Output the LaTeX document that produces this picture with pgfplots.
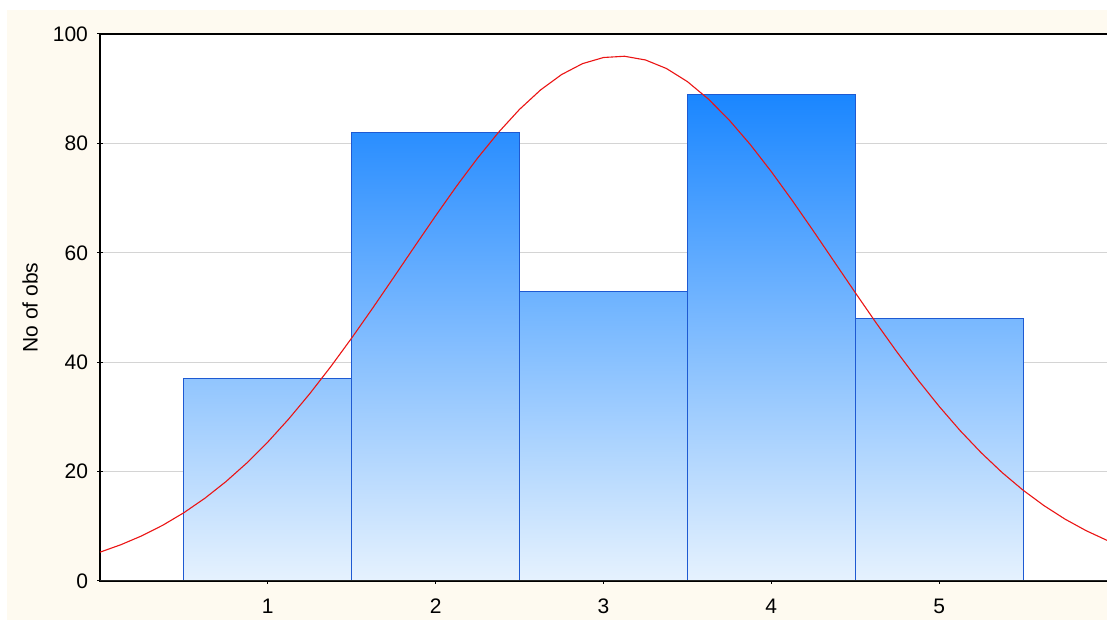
\documentclass[border=0pt]{standalone}
\usepackage{pgfplots}
\pgfplotsset{compat=1.18}
\usepackage{fontspec}
\setmainfont{Liberation Sans}
\definecolor{cream}{RGB}{254,250,240}
\definecolor{barlow}{RGB}{230,242,254}
\definecolor{barA}{RGB}{145,197,254}
\definecolor{barB}{RGB}{42,142,255}
\definecolor{barC}{RGB}{108,178,255}
\definecolor{barD}{RGB}{26,134,255}
\definecolor{barE}{RGB}{120,184,255}
\definecolor{baredge}{RGB}{30,90,210}
\definecolor{curvered}{RGB}{235,20,20}
\begin{document}
\begin{tikzpicture}
% background and bounding box (1px = 0.5pt)
\path[use as bounding box] (-50pt,-19.5pt) rectangle (503.5pt,290.5pt);
\fill[cream] (-46.5pt,-19.5pt) rectangle (503.5pt,285.5pt);
\fill[white] (0,0) rectangle (503.5pt,273.5pt);
\begin{axis}[
  at={(0,0)}, anchor=south west,
  scale only axis, width=505pt, height=273.5pt,
  xmin=0, xmax=6.0179, ymin=0, ymax=100,
  xtick={1,2,3,4,5}, ytick={0,20,40,60,80,100},
  xtick pos=bottom, ytick pos=left,
  ymajorgrids, grid style={draw=black!17, line width=0.5pt},
  axis line style={black, line width=0.6pt},
  tick style={black, line width=0.5pt},
  major tick length=3pt, tick align=center,
  ticklabel style={font=\fontsize{10.5}{12}\selectfont},
  /pgf/number format/assume math mode=true,
  xticklabel style={yshift=-4pt},
  yticklabel style={xshift=-1pt},
  ylabel={No of obs},
  ylabel style={font=\fontsize{10.5}{12}\selectfont, at={(axis description cs:-0.0693,0.5)}, anchor=center},
]
\addplot[ybar, bar width=1, bar shift=0, draw=baredge, line width=0.5pt, bottom color=barlow, top color=barA] coordinates {(1,37)};
\addplot[ybar, bar width=1, bar shift=0, draw=baredge, line width=0.5pt, bottom color=barlow, top color=barB] coordinates {(2,82)};
\addplot[ybar, bar width=1, bar shift=0, draw=baredge, line width=0.5pt, bottom color=barlow, top color=barC] coordinates {(3,53)};
\addplot[ybar, bar width=1, bar shift=0, draw=baredge, line width=0.5pt, bottom color=barlow, top color=barD] coordinates {(4,89)};
\addplot[ybar, bar width=1, bar shift=0, draw=baredge, line width=0.5pt, bottom color=barlow, top color=barE] coordinates {(5,48)};
\addplot[curvered, line width=0.55pt, no markers, line join=round] coordinates {
(0,5.27) (0.125,6.64) (0.25,8.27) (0.375,10.21) (0.5,12.49) (0.625,15.13)
(0.75,18.16) (0.875,21.58) (1,25.41) (1.125,29.64) (1.25,34.25) (1.375,39.19)
(1.5,44.43) (1.625,49.90) (1.75,55.51) (1.875,61.17) (2,66.77) (2.125,72.20)
(2.25,77.32) (2.375,82.04) (2.5,86.23) (2.625,89.77) (2.75,92.58) (2.875,94.58)
(3,95.70) (3.125,95.93) (3.25,95.25) (3.375,93.69) (3.5,91.29) (3.625,88.10)
(3.75,84.23) (3.875,79.77) (4,74.83) (4.125,69.54) (4.25,64.01) (4.375,58.36)
(4.5,52.72) (4.625,47.16) (4.75,41.80) (4.875,36.70) (5,31.92) (5.125,27.49)
(5.25,23.46) (5.375,19.83) (5.5,16.60) (5.625,13.77) (5.75,11.31) (5.875,9.21)
(6,7.43)};
\draw[black!85, line width=0.6pt] (rel axis cs:0,0) -- (rel axis cs:1,0);
\end{axis}
\end{tikzpicture}
\end{document}
